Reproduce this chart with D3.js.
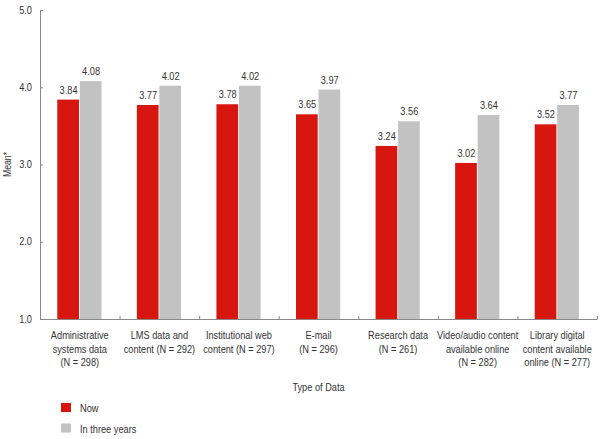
<!DOCTYPE html>
<html><head><meta charset="utf-8">
<script src="https://cdn.jsdelivr.net/npm/d3@7"></script>
<style>body{margin:0;background:#fff}svg{display:block}text{font-family:"Liberation Sans",Arial,sans-serif;fill:#333}</style>
</head><body>
<script>
const categories = [
  ["Administrative","systems data","(N = 298)"],
  ["LMS data and","content (N = 292)"],
  ["Institutional web","content (N = 297)"],
  ["E-mail","(N = 296)"],
  ["Research data","(N = 261)"],
  ["Video/audio content","available online","(N = 282)"],
  ["Library digital","content available","online (N = 277)"]
];
const seriesNames = ["Now","In three years"];
const nowValues = [3.84,3.77,3.78,3.65,3.24,3.02,3.52];
const threeYearValues = [4.08,4.02,4.02,3.97,3.56,3.64,3.77];
const yTicks = [1,2,3,4,5];
const colors = ["#d7160f","#c2c2c2"];

const W=601,H=439;
const svg=d3.select("body").append("svg").attr("width",W).attr("height",H);
const mLeft=40,mRight=597,mTop=10,mBottom=319;
const SX=0.87, FS=10.6;
const x=d3.scaleBand().domain(d3.range(categories.length)).range([mLeft,mRight]);
const y=d3.scaleLinear().domain([1,5]).range([mBottom,mTop]);
const xs=d3.scaleBand().domain(seriesNames).range([x.bandwidth()/2-22.5,x.bandwidth()/2+22.5]);

function txt(g,xp,yp,s,anchor,size){
  return g.append("text").attr("transform",`translate(${xp},${yp}) scale(${SX},1)`)
    .attr("text-anchor",anchor||"middle").style("font-size",(size||FS)+"px").text(s);
}

// y axis
const yAxis=svg.append("g").attr("transform",`translate(${mLeft},0)`)
  .call(d3.axisRight(y).tickValues(yTicks).tickSize(3).tickSizeOuter(0).tickFormat(""));
yAxis.select(".domain").attr("stroke","#888");
yAxis.selectAll(".tick line").attr("stroke","#888");
yTicks.forEach(t=>txt(svg,32,y(t)+3.5,d3.format(".1f")(t),"end"));

// x axis with boundary ticks
const xb=d3.scaleLinear().domain([0,categories.length]).range([mLeft,mRight]);
const xAxis=svg.append("g").attr("transform",`translate(0,${mBottom})`)
  .call(d3.axisTop(xb).tickValues(d3.range(categories.length+1)).tickSize(3).tickSizeOuter(0).tickFormat(""));
xAxis.select(".domain").attr("stroke","#888");
xAxis.selectAll(".tick line").attr("stroke","#888");

// bars
const data=[nowValues,threeYearValues];
data.forEach((vals,si)=>{
  const g=svg.append("g");
  vals.forEach((v,i)=>{
    const bx=x(i)+xs(seriesNames[si]);
    g.append("rect").attr("x",bx).attr("y",y(v)).attr("width",xs.bandwidth()-0.8)
      .attr("height",y(1)-y(v)).attr("fill",colors[si]);
    txt(g,bx+xs.bandwidth()/2,y(v)-6,d3.format(".2f")(v),"middle");
  });
});

// category labels
categories.forEach((lines,i)=>{
  lines.forEach((l,j)=>txt(svg,x(i)+x.bandwidth()/2,339+j*13.5,l,"middle"));
});

// axis titles
txt(svg,(mLeft+mRight)/2,391,"Type of Data","middle");
svg.append("text").attr("transform",`translate(11,${(mTop+mBottom)/2}) rotate(-90) scale(${SX},1)`)
  .attr("text-anchor","middle").style("font-size","10px").text("Mean*");

// legend
seriesNames.forEach((s,i)=>{
  svg.append("rect").attr("x",61).attr("y",403+i*20.5).attr("width",10).attr("height",9).attr("fill",colors[i]);
  txt(svg,80,412+i*20.5,s,"start");
});
</script>
</body></html>
